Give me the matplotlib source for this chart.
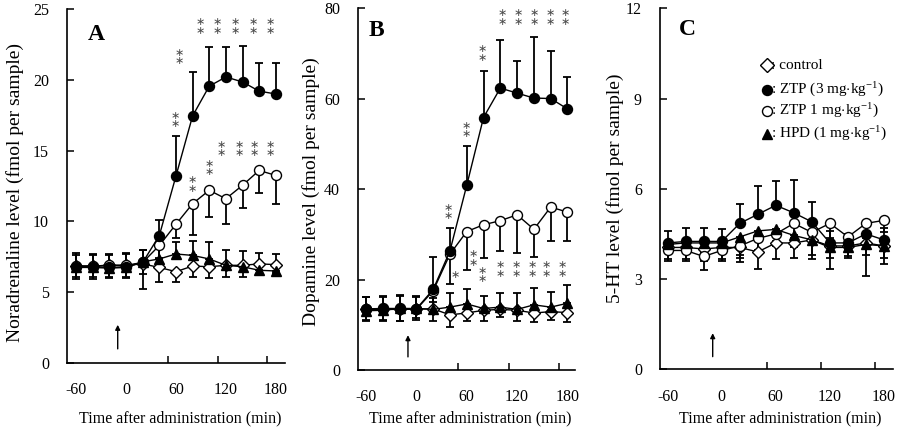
import matplotlib
matplotlib.use("Agg")
import matplotlib.pyplot as plt
import numpy as np

plt.rcParams['font.family'] = ['Liberation Serif', 'DejaVu Serif']
plt.rcParams['mathtext.fontset'] = 'custom'
plt.rcParams['mathtext.rm'] = 'Liberation Serif'
plt.rcParams['mathtext.it'] = 'Liberation Serif:italic'

time = [-60, -40, -20, 0, 20, 40, 60, 80, 100, 120, 140, 160, 180]
xtick_labels = [-60, 0, 60, 120, 180]

# Panel A: noradrenaline
A_ctrl = [6.85, 6.85, 6.9, 6.9, 7.0, 6.75, 6.45, 6.85, 6.8, 6.9, 6.9, 7.0, 6.95]
A_ctrl_err = [0.95, 0.95, 0.9, 0.9, 1.8, 1.0, 0.7, 0.8, 0.8, 0.85, 0.85, 0.8, 0.6]
A_ztp3 = [6.8, 6.8, 6.75, 6.8, 7.1, 9.0, 13.2, 17.45, 19.55, 20.2, 19.85, 19.2, 19.0]
A_ztp3_err = [0.95, 0.9, 0.95, 0.95, 0.9, 1.1, 2.85, 3.1, 2.8, 2.1, 2.55, 2.0, 2.2]
A_ztp1 = [6.85, 6.85, 6.9, 6.9, 7.1, 8.3, 9.8, 11.25, 12.2, 11.6, 12.55, 13.6, 13.25]
A_ztp1_err = [0.8, 0.8, 0.8, 0.8, 0.8, 0.9, 1.0, 2.2, 1.9, 1.8, 1.6, 1.6, 2.0]
A_hpd = [6.75, 6.75, 6.7, 6.75, 7.15, 7.35, 7.7, 7.6, 7.35, 6.9, 6.8, 6.55, 6.5]
A_hpd_err = [0.9, 0.9, 0.9, 0.95, 0.85, 1.0, 0.85, 1.0, 1.2, 1.1, 1.1, 1.2, 1.2]

# Panel B: dopamine
B_ctrl = [13.4, 13.4, 13.4, 13.5, 13.5, 12.2, 12.6, 13.2, 13.4, 13.2, 12.6, 12.9, 12.7]
B_ctrl_err = [2.5, 2.5, 2.6, 2.1, 2.6, 2.6, 1.7, 2.3, 1.7, 2.3, 2.0, 1.9, 2.0]
B_ztp3 = [13.5, 13.6, 13.6, 13.5, 17.8, 26.3, 40.8, 55.8, 62.3, 61.2, 60.1, 60.0, 57.7]
B_ztp3_err = [2.6, 2.7, 3.0, 2.6, 7.2, 5.0, 8.8, 10.2, 10.6, 7.0, 13.5, 10.4, 7.1]
B_ztp1 = [13.4, 13.5, 13.5, 13.4, 17.5, 25.6, 30.6, 32.1, 33.0, 34.3, 31.1, 36.0, 34.9]
B_ztp1_err = [2.3, 2.4, 2.6, 2.4, 2.5, 6.6, 8.5, 7.4, 6.6, 8.5, 6.2, 7.4, 6.3]
B_hpd = [13.1, 13.2, 13.6, 13.6, 13.4, 13.9, 14.6, 13.6, 13.9, 13.4, 14.4, 13.9, 14.75]
B_hpd_err = [3.0, 3.0, 2.7, 2.7, 2.6, 3.2, 3.2, 2.7, 3.1, 3.6, 3.7, 3.4, 4.05]

# Panel C: 5-HT
C_ctrl = [4.05, 4.05, 4.0, 4.05, 4.05, 3.9, 4.2, 4.2, 4.3, 4.1, 4.1, 4.2, 4.1]
C_ctrl_err = [0.4, 0.4, 0.4, 0.4, 0.5, 0.55, 0.55, 0.5, 0.65, 0.4, 0.35, 0.4, 0.4]
C_ztp3 = [4.2, 4.25, 4.25, 4.25, 4.85, 5.15, 5.45, 5.2, 4.9, 4.2, 4.2, 4.5, 4.3]
C_ztp3_err = [0.4, 0.45, 0.45, 0.4, 0.65, 0.95, 0.8, 1.1, 0.65, 0.4, 0.3, 0.4, 0.4]
C_ztp1 = [3.95, 3.95, 3.75, 3.95, 4.1, 4.35, 4.5, 4.85, 4.55, 4.85, 4.4, 4.85, 4.95]
C_ztp1_err = [0.35, 0.35, 0.45, 0.35, 0.4, 0.4, 0.4, 0.5, 0.4, 0.5, 0.4, 0.5, 0.4]
C_hpd = [4.15, 4.2, 4.2, 4.2, 4.4, 4.6, 4.65, 4.45, 4.3, 4.05, 4.05, 4.15, 4.1]
C_hpd_err = [0.3, 0.3, 0.3, 0.3, 0.6, 0.7, 0.4, 0.4, 0.5, 0.7, 0.35, 1.05, 0.6]

# significance marks: (x, centre y, number of stacked asterisks)
A_stars = [(59, 17.17, 2), (64, 21.62, 2),
           (89, 23.75, 2), (110, 23.75, 2), (131.5, 23.75, 2),
           (152.5, 23.75, 2), (173.5, 23.75, 2),
           (80, 12.6, 2), (100, 13.77, 2),
           (115, 15.12, 2), (136, 15.12, 2), (154, 15.12, 2), (173.5, 15.12, 2)]
B_stars = [(38, 34.95, 2), (60, 53.0, 2), (78.5, 70.0, 2),
           (102.5, 77.85, 2), (121.5, 77.85, 2), (140.5, 77.85, 2),
           (159, 77.85, 2), (177.5, 77.85, 2),
           (46, 21.0, 1), (68, 24.6, 2), (78.5, 20.95, 2),
           (99.5, 22.2, 2), (118.5, 22.2, 2), (137.5, 22.2, 2),
           (155, 22.2, 2), (174, 22.2, 2)]
C_stars = []

legend_labels = [': control', ': ZTP (3 mg$\\cdot$kg$^{-1}$)',
                 ': ZTP 1 mg$\\cdot$kg$^{-1}$)', ': HPD (1 mg$\\cdot$kg$^{-1}$)']

fig = plt.figure(figsize=(9, 4.29), dpi=100)

panels = [
    dict(rect=[0.0744, 0.1538, 0.2422, 0.8252], xlim=(-71, 191), ylim=(0, 25),
         yticks=[0, 5, 10, 15, 20, 25], letter='A', letter_pos=(0.133, 0.929),
         ylabel='Noradrenaline level (fmol per sample)', ylx=15, yly=193,
         data=(A_ctrl, A_ctrl_err, A_ztp3, A_ztp3_err, A_ztp1, A_ztp1_err, A_hpd, A_hpd_err),
         hpd_up=True, stars=A_stars, arrow=(1.0, 2.7)),
    dict(rect=[0.3978, 0.1375, 0.2411, 0.8438], xlim=(-69.5, 189), ylim=(0, 80),
         yticks=[0, 20, 40, 60, 80], letter='B', letter_pos=(0.083, 0.939),
         ylabel='Dopamine level (fmol per sample)', ylx=311, yly=192,
         data=(B_ctrl, B_ctrl_err, B_ztp3, B_ztp3_err, B_ztp1, B_ztp1_err, B_hpd, B_hpd_err),
         hpd_up=True, stars=B_stars, arrow=(2.9, 7.7)),
    dict(rect=[0.7333, 0.1392, 0.2589, 0.8415], xlim=(-68.5, 190), ylim=(0, 12),
         yticks=[0, 3, 6, 9, 12], letter='C', letter_pos=(0.116, 0.94),
         ylabel='5-HT level (fmol per sample)', ylx=615, yly=188,
         data=(C_ctrl, C_ctrl_err, C_ztp3, C_ztp3_err, C_ztp1, C_ztp1_err, C_hpd, C_hpd_err),
         hpd_up=False, stars=C_stars, arrow=(0.42, 1.2)),
]

ms = 7.2
ekw = dict(fmt='none', ecolor='black', elinewidth=1.3, capsize=3.2, capthick=1.3)

for p in panels:
    ax = fig.add_axes(p['rect'])
    ctrl, ctrl_e, z3, z3_e, z1, z1_e, hpd, hpd_e = p['data']
    t = np.array(time)
    zero = np.zeros(len(t))
    # error bars (one-sided)
    ax.errorbar(t, ctrl, yerr=[ctrl_e, zero], zorder=1, **ekw)
    ax.errorbar(t, z3, yerr=[zero, z3_e], zorder=1, **ekw)
    ax.errorbar(t, z1, yerr=[z1_e, zero], zorder=1, **ekw)
    if p['hpd_up']:
        ax.errorbar(t, hpd, yerr=[zero, hpd_e], zorder=1, **ekw)
    else:
        ax.errorbar(t, hpd, yerr=[hpd_e, zero], zorder=1, **ekw)
    # lines + markers
    ax.plot(t, ctrl, color='black', lw=1.0, marker='D', ms=ms * 0.85,
            mfc='white', mec='black', mew=1.0, zorder=3)
    ax.plot(t, z1, color='black', lw=1.0, marker='o', ms=ms,
            mfc='white', mec='black', mew=1.0, zorder=4)
    ax.plot(t, z3, color='black', lw=1.0, marker='o', ms=ms,
            mfc='black', mec='black', zorder=5)
    ax.plot(t, hpd, color='black', lw=1.0, marker='^', ms=ms,
            mfc='black', mec='black', zorder=6)

    for (sx, sy, n) in p['stars']:
        ax.text(sx, sy, '\n'.join(['\u2217'] * n), ha='center', va='center',
                fontsize=8, linespacing=0.82, color='0.3',
                family=['DejaVu Sans'], zorder=7)

    # administration arrow
    ax.annotate('', xy=(-10, p['arrow'][1]), xytext=(-10, p['arrow'][0]),
                arrowprops=dict(arrowstyle='-|>', color='black', lw=1.0,
                                mutation_scale=7, shrinkA=0, shrinkB=0))

    ax.set_xlim(*p['xlim'])
    ax.set_ylim(*p['ylim'])
    ax.set_xticks(xtick_labels)
    ax.set_xticklabels([str(v) for v in xtick_labels])
    ax.set_xticks([50, 110, 170], minor=True)
    ax.set_yticks(p['yticks'])
    ax.tick_params(axis='x', which='major', length=0, pad=14, labelsize=11.5)
    ax.tick_params(axis='x', which='minor', direction='in', length=5, width=1.1)
    ax.tick_params(axis='y', direction='in', length=5, width=1.1, pad=13,
                   labelsize=11.5)
    for s in ('top', 'right'):
        ax.spines[s].set_visible(False)
    for s in ('left', 'bottom'):
        ax.spines[s].set_linewidth(1.2)

    # panel letter
    ax.text(p['letter_pos'][0], p['letter_pos'][1], p['letter'],
            transform=ax.transAxes, fontsize=17, fontweight='bold',
            ha='center', va='center')

    # labels
    bbox = ax.get_position()
    fig.text(p['ylx'] / 900, 1 - p['yly'] / 429, p['ylabel'], rotation=90,
             ha='center', va='center', fontsize=14)
    fig.text((bbox.x0 + bbox.x1) / 2 + 4 / 900, 1 - 418 / 429,
             'Time after administration (min)', ha='center', va='center',
             fontsize=11.5)

    if p['letter'] == 'C':
        lx_m, lx_t = 0.458, 0.478
        lys = [0.842, 0.775, 0.716, 0.653]
        styles = [dict(marker='D', mfc='white', ms=ms * 0.95),
                  dict(marker='o', mfc='black', ms=ms),
                  dict(marker='o', mfc='white', ms=ms),
                  dict(marker='^', mfc='black', ms=ms)]
        for ly, st, lab in zip(lys, styles, legend_labels):
            ax.plot([lx_m], [ly], transform=ax.transAxes, color='black',
                    mec='black', mew=1.0, ls='none', clip_on=False, **st)
            ax.text(lx_t, ly, lab, transform=ax.transAxes, ha='left',
                    va='center', fontsize=11)

fig.savefig('out.png', dpi=100)
